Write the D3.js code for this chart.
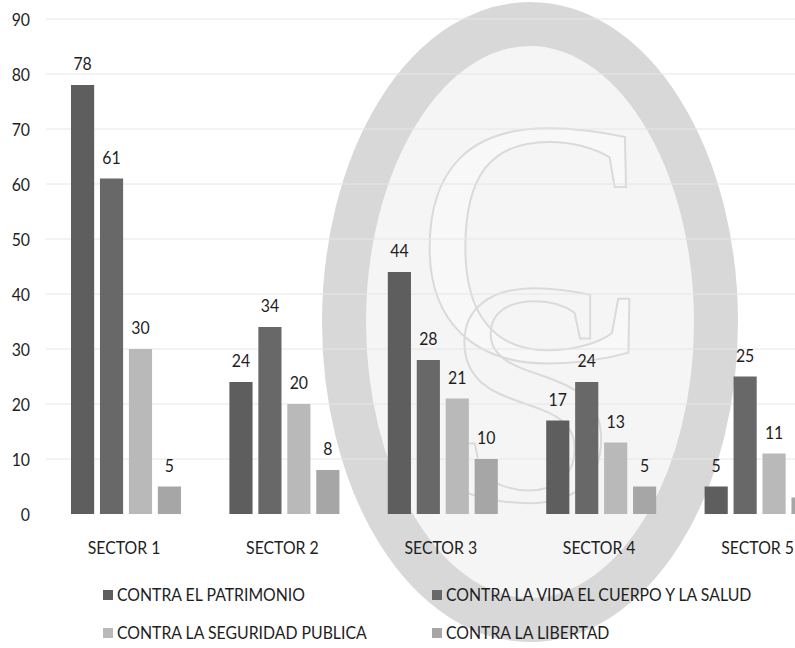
<!DOCTYPE html>
<html>
<head>
<meta charset="utf-8">
<script src="https://cdn.jsdelivr.net/npm/d3@7"></script>
<style>
  html, body { margin: 0; padding: 0; background: #fff; }
  svg { display: block; }
  text { font-family: Lato, "Open Sans", sans-serif; font-size: 18px; fill: #1e1e1e; }
</style>
</head>
<body>
<svg id="chart" width="795" height="648"></svg>
<script>
// Delitos registrados por sector
const sectors = ["SECTOR 1", "SECTOR 2", "SECTOR 3", "SECTOR 4", "SECTOR 5"];
const seriesNames = [
  "CONTRA EL PATRIMONIO",
  "CONTRA LA VIDA EL CUERPO Y LA SALUD",
  "CONTRA LA SEGURIDAD PUBLICA",
  "CONTRA LA LIBERTAD"
];
const patrimonio = [78, 24, 44, 17, 5];
const vida = [61, 34, 28, 24, 25];
const seguridad = [30, 20, 21, 13, 11];
const libertad = [5, 8, 10, 5, 3];
const yTicks = [0, 10, 20, 30, 40, 50, 60, 70, 80, 90];
const seriesColors = ["#5e5e5e", "#686868", "#b9b9b9", "#a6a6a6"];

const seriesValues = [patrimonio, vida, seguridad, libertad];

const svg = d3.select("#chart");
const W = 795, H = 648;
// Condensed look for all labels
const narrow = "scale(0.88,1)";

// Sello de fondo: óvalo con iniciales
const mark = svg.append("g").attr("class", "sello");
mark.append("ellipse")
  .attr("cx", 530).attr("cy", 322).attr("rx", 186).attr("ry", 298)
  .attr("fill", "#f5f5f5").attr("stroke", "#d8d8d8").attr("stroke-width", 44);
mark.append("text")
  .attr("x", 532).attr("y", 360)
  .attr("text-anchor", "middle")
  .style("font-family", "'Liberation Serif', 'DejaVu Serif', serif")
  .style("font-size", "350px")
  .style("fill", "#f8f8f8").style("stroke", "#dadada").style("stroke-width", 2)
  .text("C");
mark.append("text")
  .attr("x", 532).attr("y", 500)
  .attr("text-anchor", "middle")
  .style("font-family", "'Liberation Serif', 'DejaVu Serif', serif")
  .style("font-size", "320px")
  .style("fill", "none").style("stroke", "#dadada").style("stroke-width", 2)
  .text("S");

// Escalas
const y = d3.scaleLinear().domain([0, 90]).range([514, 19]);
const x0 = d3.scaleBand().domain(sectors).range([22.6, 863]).paddingInner(0.3056).paddingOuter(0.3056);
const x1 = d3.scaleBand().domain(d3.range(seriesNames.length)).range([0, x0.bandwidth()]).paddingInner(0.2);

// Líneas de cuadrícula
svg.append("g").selectAll("line")
  .data(yTicks.filter(d => d > 0))
  .join("line")
  .attr("x1", 46).attr("x2", W)
  .attr("y1", d => y(d)).attr("y2", d => y(d))
  .attr("stroke", "#e6e6e6").attr("stroke-width", 1);

// Eje Y
const yAxis = svg.append("g")
  .attr("transform", "translate(30,0)")
  .call(d3.axisLeft(y).tickValues(yTicks).tickSize(0).tickPadding(0));
yAxis.select(".domain").remove();
yAxis.selectAll("text")
  .attr("x", 0)
  .attr("dy", "0.35em")
  .attr("transform", narrow)
  .style("font-family", "Lato, sans-serif")
  .style("font-size", "18px")
  .style("fill", "#1e1e1e");

// Barras y etiquetas de valor
const groups = svg.append("g").selectAll("g")
  .data(sectors)
  .join("g")
  .attr("transform", d => `translate(${x0(d)},0)`);

groups.each(function(sector, si) {
  const g = d3.select(this);
  const gx = x0(sector);
  const rows = seriesValues.map((vals, k) => ({ k, v: vals[si] }));
  g.selectAll("rect")
    .data(rows)
    .join("rect")
    .attr("x", d => x1(d.k))
    .attr("y", d => y(d.v))
    .attr("width", x1.bandwidth())
    .attr("height", d => y(0) - y(d.v))
    .attr("fill", d => seriesColors[d.k]);
  // labels whose centre falls outside the page are left out
  g.selectAll("g.val")
    .data(rows.filter(d => gx + x1(d.k) + x1.bandwidth() / 2 < W))
    .join("g")
    .attr("class", "val")
    .attr("transform", d => `translate(${x1(d.k) + x1.bandwidth() / 2},${y(d.v) - 15})`)
    .append("text")
    .attr("text-anchor", "middle")
    .attr("transform", narrow)
    .text(d => d.v);
});

// Eje X (categorías)
const xAxis = svg.append("g")
  .attr("transform", `translate(0,${y(0)})`)
  .call(d3.axisBottom(x0).tickSize(0).tickPadding(0));
xAxis.select(".domain").remove();
xAxis.selectAll("text")
  .attr("y", 0)
  .attr("dy", 0)
  .attr("transform", "translate(-2,40) " + narrow)
  .style("font-family", "Lato, sans-serif")
  .style("font-size", "18px")
  .style("fill", "#1e1e1e");

// Leyenda
const legendPos = [[103, 595], [432, 595], [103, 633], [432, 633]];
const legend = svg.append("g").selectAll("g")
  .data(seriesNames)
  .join("g")
  .attr("transform", (d, i) => `translate(${legendPos[i][0]},${legendPos[i][1]})`);
legend.append("rect")
  .attr("x", 0).attr("y", -5).attr("width", 10).attr("height", 10)
  .attr("fill", (d, i) => seriesColors[i]);
legend.append("text")
  .attr("x", 0).attr("y", 0).attr("dy", "0.35em")
  .attr("transform", "translate(14,0) " + narrow)
  .text(d => d);
</script>
</body>
</html>
